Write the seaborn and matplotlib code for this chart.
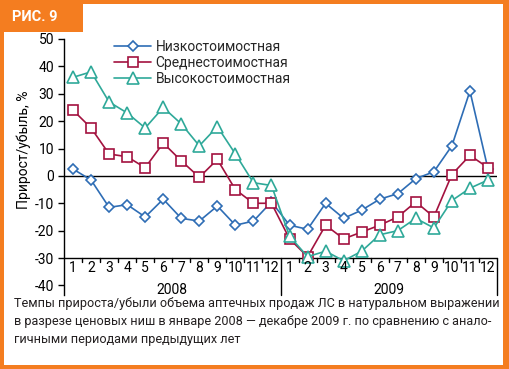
import numpy as np
import pandas as pd
import matplotlib
matplotlib.use('Agg')
import matplotlib.pyplot as plt
import seaborn as sns
from matplotlib.patches import Rectangle

# ---- data ----
month_labels = [str(i) for i in range(1, 13)] * 2
years = ['2008', '2009']
series_names = ['Низкостоимостная', 'Среднестоимостная', 'Высокостоимостная']
low = [2.5, -1.5, -11.5, -10.5, -15, -8.5, -15.5, -16.5, -11, -18, -16.5, -9.5,
       -18, -19.5, -10, -15.5, -12.5, -8.5, -6.5, -1, 1.5, 11, 31, 2.5]
mid = [24, 17.5, 8, 7, 3, 12, 5.5, -0.5, 6, -5, -10, -10,
       -23, -29.5, -18, -23, -20.5, -18, -15, -9.5, -15, 0.5, 7.5, 3]
high = [36, 38, 27, 23, 17.5, 25, 19, 11, 18, 8, -2.5, -3.5,
        -22, -29.5, -27.5, -31, -27.5, -21.5, -20, -15.5, -19, -9, -4.5, -1.5]
y_ticks = [-40, -30, -20, -10, 0, 10, 20, 30, 40, 50]
y_label = 'Прирост/убыль, %'
fig_tag = 'РИС. 9'
caption = ['Темпы прироста/убыли объема аптечных продаж ЛС в натуральном выражении',
           'в разрезе ценовых ниш в январе 2008 — декабре 2009 г. по сравнению с анало-',
           'гичными периодами предыдущих лет']

colors = ['#2e6db5', '#a3123f', '#2fa999']
markers = ['D', 's', '^']
msizes = [5.0, 7.0, 8.0]

sns.set_theme(style='white')
plt.rcParams['font.family'] = ['Roboto', 'DejaVu Sans']

W, H = 509, 369
fig = plt.figure(figsize=(W / 100, H / 100), dpi=100)
ORANGE = '#f47d20'
fig.patch.set_facecolor(ORANGE)
fig.add_artist(Rectangle((4 / W, 4 / H), (503 - 4) / W, (365 - 4) / H,
                         transform=fig.transFigure, facecolor='white', edgecolor='none', zorder=0))
fig.add_artist(Rectangle((0, 1 - 32 / H), 83 / W, 32 / H, transform=fig.transFigure,
                         facecolor=ORANGE, edgecolor='none', zorder=1))
fig.text(12 / W, 1 - 17 / H, fig_tag, color='white', fontsize=10.5, fontweight='bold',
         va='center', ha='left')

ax_left, ax_right = 64 / W, 497 / W
ax_top, ax_bot = 1 - 39 / H, 1 - 295 / H
ax = fig.add_axes([ax_left, ax_bot, ax_right - ax_left, ax_top - ax_bot])
ax.set_facecolor('none')

x = np.arange(1, 25)
rows = []
for name, vals in zip(series_names, [low, mid, high]):
    for xi, v in zip(x, vals):
        rows.append({'x': xi, 'value': v, 'series': name})
df = pd.DataFrame(rows)

for name, c, m, ms in zip(series_names, colors, markers, msizes):
    sns.lineplot(data=df[df.series == name], x='x', y='value', ax=ax, color=c,
                 marker=m, markersize=ms, markerfacecolor='white', markeredgecolor=c,
                 markeredgewidth=1.2, linewidth=1.2, label=name, zorder=3)

ax.set_xlim(0.5, 24.5)
ax.set_ylim(-43.5, 50)
ax.set_xlabel('')
ax.set_ylabel('')
for s in ['top', 'right', 'bottom']:
    ax.spines[s].set_visible(False)
ax.spines['left'].set_color('black')
ax.spines['left'].set_linewidth(1.0)
ax.set_yticks(y_ticks)
ax.set_yticklabels([str(t) for t in y_ticks])
ax.tick_params(axis='y', left=True, direction='out', length=4, width=1, colors='black',
               labelsize=10, pad=3)
ax.set_xticks([])

ax.axhline(0, color='black', linewidth=1.0, zorder=2)
ax.plot([0.5, 24.5], [-30, -30], color='black', linewidth=1.0, clip_on=False, zorder=2)
for b in list(np.arange(1.5, 12, 1)) + list(np.arange(13.5, 24, 1)):
    ax.plot([b, b], [-30, -31.5], color='black', linewidth=1.0, clip_on=False)
for b in [12.5, 24.5]:
    ax.plot([b, b], [-30, -43.5], color='black', linewidth=1.0, clip_on=False)
for xi, lab in zip(x, month_labels):
    ax.text(xi, -33.8, lab, ha='center', va='center', fontsize=10, color='black')
for i, yr in enumerate(years):
    ax.text(6.5 + 12 * i, -41.6, yr, ha='center', va='center', fontsize=10, color='black')

fig.text(24 / W, 1 - 150 / H, y_label, rotation=90, ha='center', va='center',
         fontsize=10, color='black')

leg = ax.legend(loc='upper left', bbox_to_anchor=(107 / W, 1 - 33 / H),
                bbox_transform=fig.transFigure, frameon=False, fontsize=10,
                handlelength=2.7, labelspacing=0.15, handletextpad=0.3, borderpad=0)

# caption: fit font size so the first line spans about 482 px
renderer = fig.canvas.get_renderer()
probe = fig.text(0, 0, caption[0], fontsize=10)
wpx = probe.get_window_extent(renderer).width
probe.remove()
cap_fs = 10 * 482 / wpx
for i, line in enumerate(caption):
    fig.text(14 / W, 1 - (303 + 18.5 * i) / H, line, ha='left', va='center', fontsize=cap_fs,
             color='#231f20')

fig.savefig('out.png', dpi=100, facecolor=fig.get_facecolor())
